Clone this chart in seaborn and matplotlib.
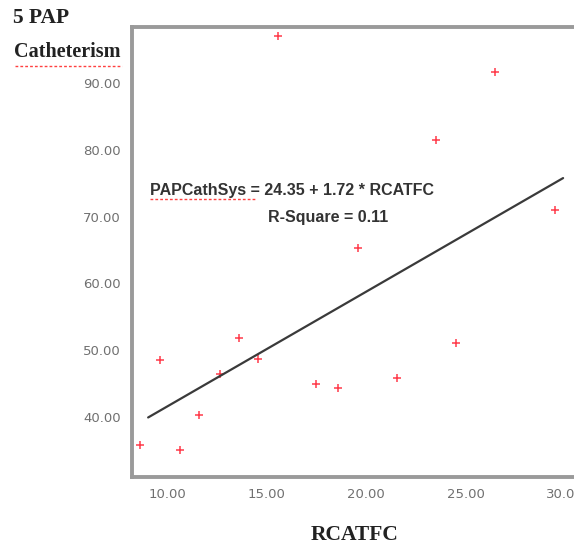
import pandas as pd
import matplotlib.pyplot as plt
from matplotlib.lines import Line2D
import seaborn as sns

# Data
rcatfc = [8.64, 9.65, 10.65, 11.6, 12.66, 13.6, 14.57, 15.6, 17.5, 18.6,
          19.6, 21.56, 23.5, 24.5, 26.5, 29.5]
pap_cath = [35.8, 48.5, 35.1, 40.3, 46.4, 51.8, 48.7, 97.0, 44.9, 44.3,
            65.3, 45.8, 81.5, 51.1, 91.6, 71.0]

# Fit line from the printed equation
intercept, slope = 24.35, 1.72
fit_x = [9.05, 29.9]
fit_y = [intercept + slope * v for v in fit_x]

x_ticks = [10, 15, 20, 25, 30]
y_ticks = [40, 50, 60, 70, 80, 90]

df = pd.DataFrame({"RCATFC": rcatfc, "PAPCathSys": pap_cath})
fit = pd.DataFrame({"x": fit_x, "y": fit_y})

sns.set_style("white")
fig = plt.figure(figsize=(5.74, 5.46), dpi=100)
ax = fig.add_axes([0.230, 0.1264, 0.777, 0.824])

sns.lineplot(data=fit, x="x", y="y", ax=ax, color="#3a3a3a", linewidth=1.6)
sns.scatterplot(data=df, x="RCATFC", y="PAPCathSys", ax=ax, marker="+",
                color="#ff3b4a", s=28, linewidth=1.1)

ax.set_xlim(8.24, 30.65)
ax.set_ylim(31, 98.4)
ax.set_xticks(x_ticks)
ax.set_yticks(y_ticks)
ax.set_xticklabels([f"{v:.2f}" for v in x_ticks])
ax.set_yticklabels([f"{v:.2f}" for v in y_ticks])
ax.tick_params(axis="both", direction="out", length=4, width=2, color="#222222",
               labelsize=9.5, labelcolor="#707070", pad=4)
ax.set_xlabel("")
ax.set_ylabel("")
for side in ["left", "bottom", "top", "right"]:
    ax.spines[side].set_color("#9a9a9a")
    ax.spines[side].set_linewidth(2.8)

# Equation and R-square
ax.text(9.15, 73.95, "PAPCathSys = 24.35 + 1.72 * RCATFC", fontsize=11.5,
        family="Liberation Sans", fontweight="bold", color="#333333",
        va="center", ha="left")
ax.text(15.08, 69.9, "R-Square = 0.11", fontsize=11.5,
        family="Liberation Sans", fontweight="bold", color="#333333",
        va="center", ha="left")

# Axis titles as in the original figure
fig.text(13 / 574, 1 - 18 / 546, "5 PAP", family="Liberation Serif",
         fontweight="bold", fontsize=15.5, color="#222222", va="center")
fig.text(14 / 574, 1 - 52 / 546, "Catheterism", family="Liberation Serif",
         fontweight="bold", fontsize=14.5, color="#222222", va="center")
fig.text(355 / 574, 1 - 535 / 546, "RCATFC", family="Liberation Serif",
         fontweight="bold", fontsize=15.5, color="#222222", va="center",
         ha="center")

# spell-check underlines
fig.add_artist(Line2D([15 / 574, 122 / 574], [1 - 66 / 546, 1 - 66 / 546],
                      color="#ff4040", linewidth=1, linestyle=(0, (2, 1.5))))
fig.add_artist(Line2D([150 / 574, 255 / 574], [1 - 199 / 546, 1 - 199 / 546],
                      color="#ff4040", linewidth=1, linestyle=(0, (2, 1.5))))

fig.savefig("out.png", dpi=100)
